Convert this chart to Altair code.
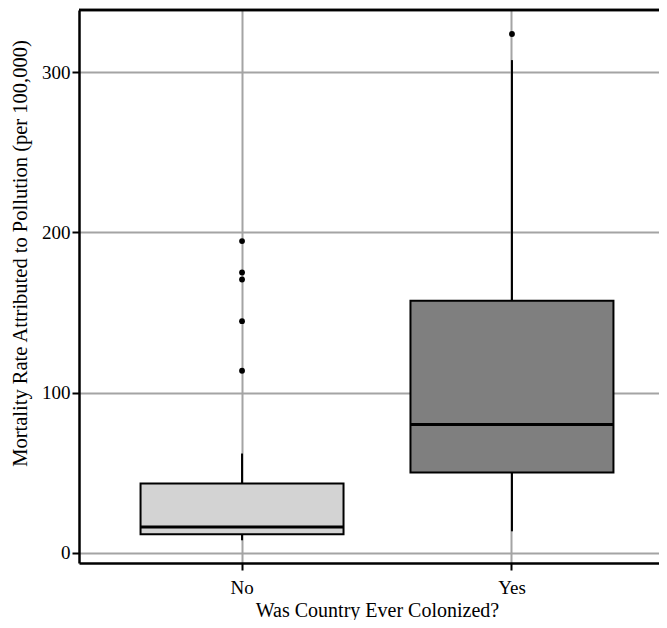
import altair as alt
import pandas as pd

# Summary statistics
categories = ["No", "Yes"]
whisker_low = [7.7, 13.3]
q1 = [11.4, 50.0]
median = [16.0, 80.0]
q3 = [43.1, 157.3]
whisker_high = [61.9, 307.7]
fills = ["#d3d3d3", "#7f7f7f"]

outlier_cat = ["No", "No", "No", "No", "No", "Yes"]
outlier_val = [194.6, 175.0, 170.6, 144.6, 113.6, 324.0]

boxes = pd.DataFrame({
    "cat": categories, "lo": whisker_low, "q1": q1, "med": median,
    "q3": q3, "hi": whisker_high, "fill": fills,
})
outliers = pd.DataFrame({"cat": outlier_cat, "val": outlier_val})

FONT = "Liberation Serif"
W, H = 596, 553

xscale = alt.Scale(domain=categories, paddingInner=0.248, paddingOuter=0.228)
yscale = alt.Scale(domain=[-6.5, 339], nice=False, zero=False)

xaxis = alt.Axis(title="Was Country Ever Colonized?", labelAngle=0, bandPosition=0.5,
                 grid=True, gridColor="#a4a4a4", gridWidth=2,
                 domainColor="black", domainWidth=2.5, tickColor="black", tickWidth=2,
                 tickSize=7, labelPadding=8, titlePadding=3,
                 labelFont=FONT, labelFontSize=19, labelColor="black",
                 titleFont=FONT, titleFontSize=20, titleFontWeight="normal", titleColor="black")
yaxis = alt.Axis(title="Mortality Rate Attributed to Pollution (per 100,000)",
                 values=[0, 100, 200, 300], format="d",
                 grid=True, gridColor="#a4a4a4", gridWidth=2,
                 domainColor="black", domainWidth=2.5, tickColor="black", tickWidth=2,
                 tickSize=7, labelPadding=2, titlePadding=11, titleY=243,
                 labelFont=FONT, labelFontSize=19, labelColor="black",
                 titleFont=FONT, titleFontSize=20.5, titleFontWeight="normal", titleColor="black")

base = alt.Chart(boxes)

whisk_low = base.mark_rule(color="black", strokeWidth=2).encode(
    x=alt.X("cat:N", scale=xscale, axis=xaxis),
    y=alt.Y("lo:Q", scale=yscale, axis=yaxis),
    y2="q1:Q",
)
whisk_high = base.mark_rule(color="black", strokeWidth=2).encode(
    x=alt.X("cat:N", scale=xscale, axis=xaxis),
    y=alt.Y("q3:Q", scale=yscale, axis=yaxis),
    y2="hi:Q",
)
box = base.mark_bar(width=alt.RelativeBandSize(1), stroke="black", strokeWidth=2).encode(
    x=alt.X("cat:N", scale=xscale, axis=xaxis),
    y=alt.Y("q1:Q", scale=yscale, axis=yaxis),
    y2="q3:Q",
    fill=alt.Fill("fill:N", scale=None),
)
med = base.mark_tick(color="black", thickness=3, size=203, opacity=1).encode(
    x=alt.X("cat:N", scale=xscale, axis=xaxis),
    y=alt.Y("med:Q", scale=yscale, axis=yaxis),
)
pts = alt.Chart(outliers).mark_circle(color="black", size=34, opacity=1).encode(
    x=alt.X("cat:N", scale=xscale, axis=xaxis),
    y=alt.Y("val:Q", scale=yscale, axis=yaxis),
)
top = alt.Chart(boxes).mark_rule(color="black", strokeWidth=2.5).encode(
    x=alt.value(0), x2=alt.value(W), y=alt.value(0)
)

chart = alt.layer(whisk_low, whisk_high, box, med, pts, top).properties(
    width=W, height=H,
    autosize=alt.AutoSizeParams(type="none"),
    padding={"left": 71, "top": 2, "right": -16, "bottom": 57},
    background="white",
).configure_view(stroke=None)

chart.save("out.html", embed_options={"renderer": "svg", "actions": False})
